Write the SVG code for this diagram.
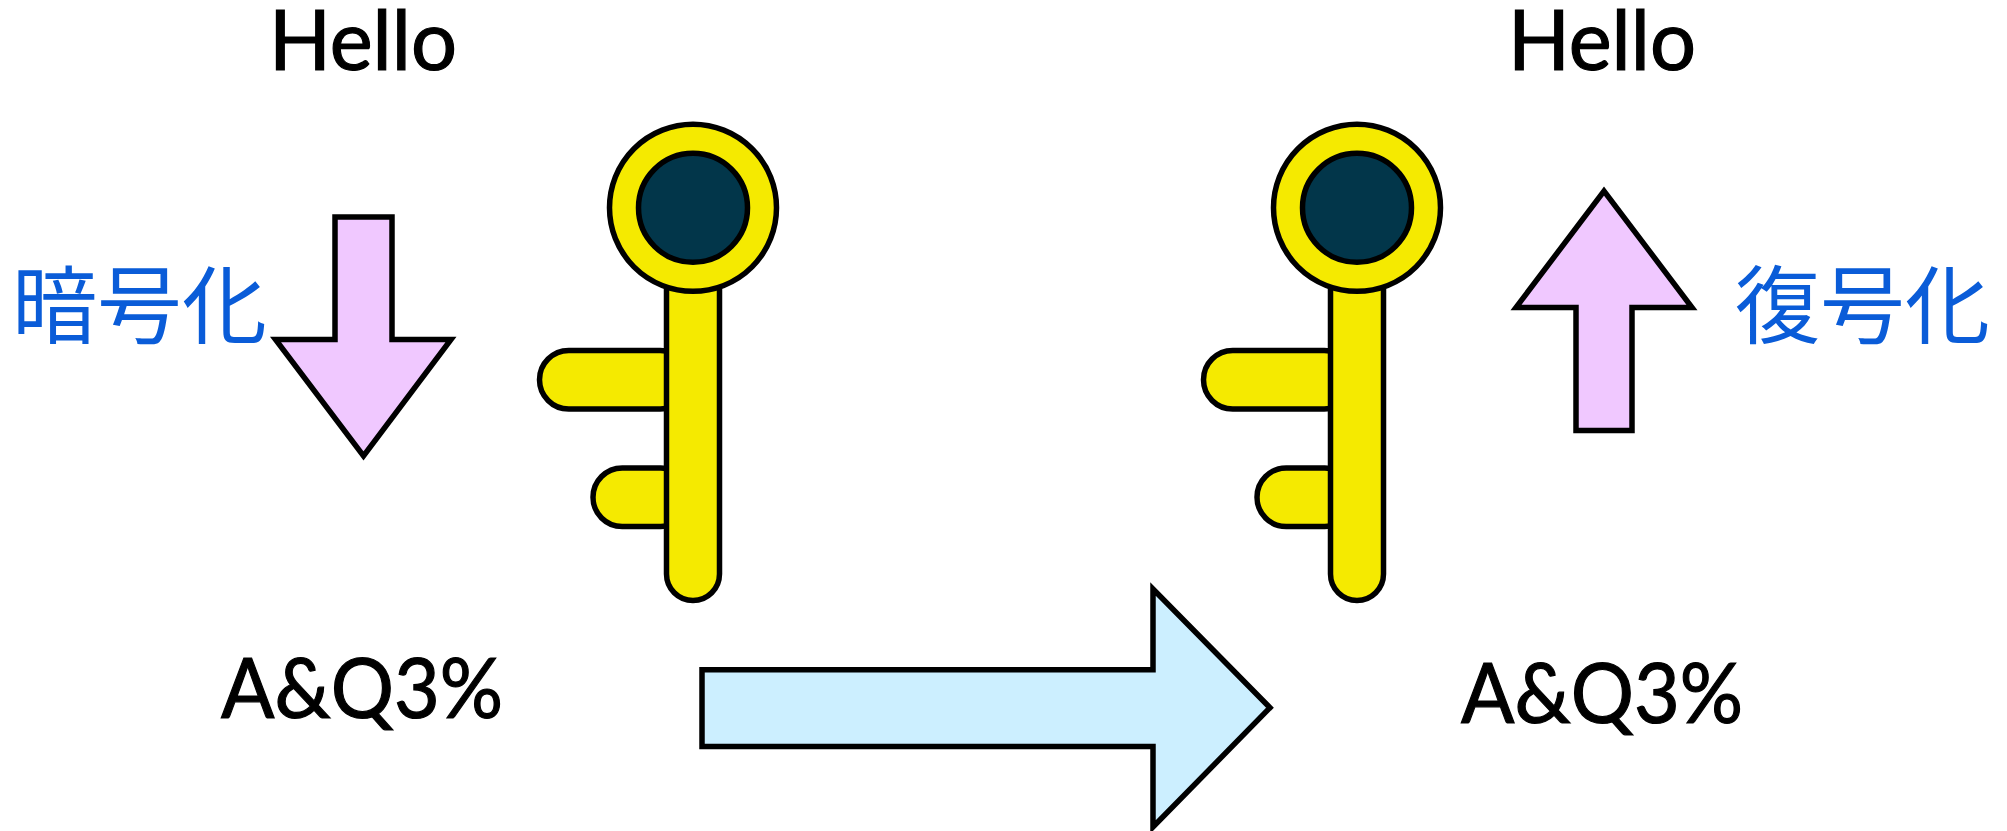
<svg xmlns="http://www.w3.org/2000/svg" width="2007" height="831" viewBox="0 0 2007 831">
<style>
.s{stroke:#000;stroke-width:5.5;stroke-miterlimit:10}
.y{fill:#f5ea00}
.d{fill:#02364a}
.p{fill:#f0c8ff}
.b{fill:#ccefff}
.t{font-family:"Lato","Liberation Sans",sans-serif;font-size:83px;fill:#000;stroke:#000;stroke-width:1.2}
.j{font-family:"Noto Sans CJK JP",sans-serif;font-size:85px;fill:#0a5cd8}
</style>
<defs>
<g id="key">
<rect class="s y" x="539.5" y="350.5" width="150" height="58.5" rx="29.25"/>
<rect class="s y" x="593" y="468" width="97" height="58.5" rx="29.25"/>
<rect class="s y" x="666.5" y="250" width="53" height="350.5" rx="26.5"/>
<circle class="s y" cx="693" cy="207.8" r="83.5"/>
<circle class="s d" cx="693" cy="207.8" r="54.5"/>
</g>
</defs>
<g id="connectors">
<path id="arrow-encrypt" class="s p" d="M335 217H392V339.5H451L363.5 456L275.5 339.5H335Z"/>
<path id="arrow-decrypt" class="s p" d="M1576 430.5H1632V307.5H1692L1604 191L1516 307.5H1576Z"/>
<path id="arrow-send" class="s b" d="M702 669.8H1153V589L1270 707.7L1153 827V746.5H702Z"/>
</g>
<g id="key-left"><use href="#key"/></g>
<g id="key-right"><use href="#key" x="664"/></g>
<g id="plain-left"><text class="t" x="269" y="70" textLength="188" lengthAdjust="spacingAndGlyphs">Hello</text></g>
<g id="plain-right"><text class="t" x="1508" y="70" textLength="188" lengthAdjust="spacingAndGlyphs">Hello</text></g>
<g id="cipher-left"><text class="t" x="221" y="718" textLength="282" lengthAdjust="spacingAndGlyphs">A&amp;Q3%</text></g>
<g id="cipher-right"><text class="t" x="1461" y="723" textLength="282" lengthAdjust="spacingAndGlyphs">A&amp;Q3%</text></g>
<g id="label-encrypt"><text class="j" x="12" y="337">暗号化</text></g>
<g id="label-decrypt"><text class="j" x="1735" y="337">復号化</text></g>
</svg>
